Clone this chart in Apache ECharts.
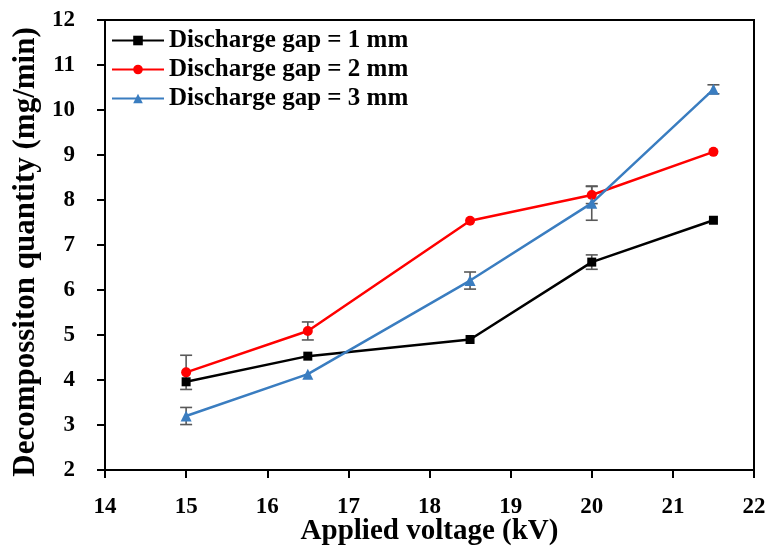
<!DOCTYPE html>
<html>
<head>
<meta charset="utf-8">
<script src="https://cdn.jsdelivr.net/npm/echarts@6/dist/echarts.min.js"></script>
<style>
html,body{margin:0;padding:0;background:#fff;}
#chart{width:769px;height:555px;}
</style>
</head>
<body>
<div id="chart"></div>
<script>
const xValues = [15, 16.5, 18.5, 20, 21.5];
const seriesNames = ['Discharge gap = 1 mm', 'Discharge gap = 2 mm', 'Discharge gap = 3 mm'];
const gap1 = [3.96, 4.53, 4.90, 6.62, 7.55];
const gap2 = [4.17, 5.09, 7.54, 8.11, 9.07];
const gap3 = [3.20, 4.13, 6.21, 7.93, 10.46];
const gap1Err = [0, 0, 0, 0.16, 0];
const gap2Err = [0.38, 0.20, 0, 0.19, 0];
const gap3Err = [0.19, 0, 0.19, 0.38, 0.10];
const xAxisTitle = 'Applied voltage (kV)';
const yAxisTitle = 'Decompossiton quantity (mg/min)';

const FONT = 'Liberation Serif';
const colors = ['#000000', '#ff0000', '#3a7dc0'];
const symbols = ['rect', 'circle', 'triangle'];
const symbolSizes = [9, 10, 11];
const values = [gap1, gap2, gap3];
const errs = [gap1Err, gap2Err, gap3Err];

function errSeries(vals, err) {
  return {
    type: 'custom',
    silent: true,
    z: 1,
    data: xValues.map((x, i) => [x, vals[i] - err[i], vals[i] + err[i], err[i]]),
    renderItem: function (params, api) {
      if (api.value(3) === 0) return null;
      const lo = api.coord([api.value(0), api.value(1)]);
      const hi = api.coord([api.value(0), api.value(2)]);
      const w = 6;
      const st = { stroke: '#595959', lineWidth: 1.6 };
      return {
        type: 'group',
        children: [
          { type: 'line', shape: { x1: lo[0], y1: lo[1], x2: hi[0], y2: hi[1] }, style: st },
          { type: 'line', shape: { x1: lo[0] - w, y1: lo[1], x2: lo[0] + w, y2: lo[1] }, style: st },
          { type: 'line', shape: { x1: hi[0] - w, y1: hi[1], x2: hi[0] + w, y2: hi[1] }, style: st }
        ]
      };
    }
  };
}

const lineSeries = seriesNames.map((name, k) => ({
  name: name,
  type: 'line',
  z: 3,
  data: xValues.map((x, i) => [x, values[k][i]]),
  symbol: symbols[k],
  symbolSize: symbolSizes[k],
  showSymbol: true,
  itemStyle: { color: colors[k] },
  lineStyle: { color: colors[k], width: 2.5 }
}));

const chart = echarts.init(document.getElementById('chart'), null, { renderer: 'canvas' });
chart.setOption({
  animation: false,
  backgroundColor: '#ffffff',
  grid: { left: 105, right: 15, top: 20, bottom: 85, show: true, borderColor: '#000', borderWidth: 2, containLabel: false, outerBoundsMode: 'none' },
  legend: {
    orient: 'vertical',
    left: 111,
    top: 28,
    itemWidth: 52,
    itemHeight: 12,
    itemGap: 4,
    padding: 0,
    textStyle: { fontFamily: FONT, fontWeight: 'bold', fontSize: 25, color: '#000' },
    data: seriesNames
  },
  xAxis: {
    type: 'value',
    min: 14, max: 22, interval: 1,
    name: xAxisTitle,
    nameLocation: 'middle',
    nameGap: 47,
    nameMoveOverlap: false,
    nameTextStyle: { fontFamily: FONT, fontWeight: 'bold', fontSize: 29, color: '#000' },
    axisLine: { show: true, lineStyle: { color: '#000', width: 2 } },
    axisTick: { show: true, length: 8, lineStyle: { color: '#000', width: 2 } },
    axisLabel: { margin: 26, fontFamily: FONT, fontWeight: 'bold', fontSize: 23, color: '#000' },
    splitLine: { show: false }
  },
  yAxis: {
    type: 'value',
    min: 2, max: 12, interval: 1,
    name: yAxisTitle,
    nameLocation: 'middle',
    nameGap: 64,
    nameMoveOverlap: false,
    nameTextStyle: { fontFamily: FONT, fontWeight: 'bold', fontSize: 31, color: '#000', padding: [0, 14, 0, 0] },
    axisLine: { show: true, lineStyle: { color: '#000', width: 2 } },
    axisTick: { show: true, length: 8, lineStyle: { color: '#000', width: 2 } },
    axisLabel: { margin: 30, fontFamily: FONT, fontWeight: 'bold', fontSize: 23, color: '#000' },
    splitLine: { show: false }
  },
  series: [
    errSeries(gap1, gap1Err),
    errSeries(gap2, gap2Err),
    errSeries(gap3, gap3Err)
  ].concat(lineSeries)
});
</script>
</body>
</html>
